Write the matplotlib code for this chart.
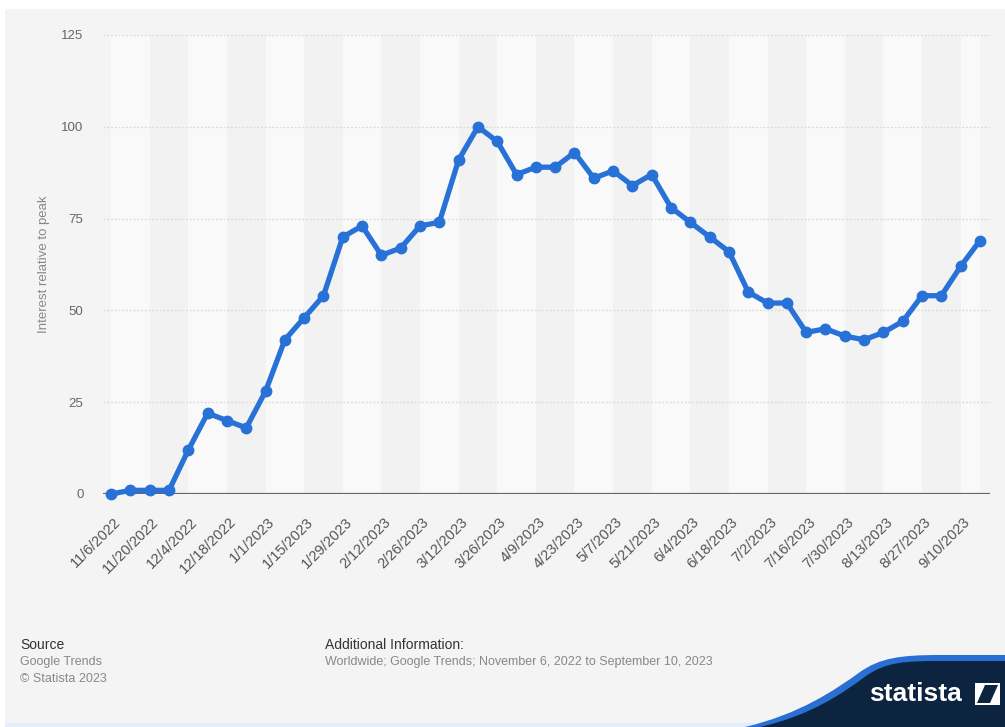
import matplotlib
matplotlib.use("Agg")
import matplotlib.pyplot as plt
from matplotlib.patches import PathPatch, Rectangle, Polygon
from matplotlib.path import Path
import matplotlib.transforms as mtransforms

plt.rcParams['font.family'] = ['Liberation Sans', 'DejaVu Sans']

# weekly Google Trends interest, 11/6/2022 .. 9/17/2023
interest = [0, 1, 1, 1, 12, 22, 20, 18, 28, 42,
            48, 54, 70, 73, 65, 67, 73, 74, 91, 100,
            96, 87, 89, 89, 93, 86, 88, 84, 87, 78,
            74, 70, 66, 55, 52, 52, 44, 45, 43, 42,
            44, 47, 54, 54, 62, 69]

# every second week gets a label
tick_labels = ['11/6/2022', '11/20/2022', '12/4/2022', '12/18/2022', '1/1/2023',
               '1/15/2023', '1/29/2023', '2/12/2023', '2/26/2023', '3/12/2023',
               '3/26/2023', '4/9/2023', '4/23/2023', '5/7/2023', '5/21/2023',
               '6/4/2023', '6/18/2023', '7/2/2023', '7/16/2023', '7/30/2023',
               '8/13/2023', '8/27/2023', '9/10/2023']

y_ticks = [0, 25, 50, 75, 100, 125]

W, H = 1005, 727
fig = plt.figure(figsize=(W / 100, H / 100), dpi=100)
fig.patch.set_facecolor('white')


def px(xp, yp):
    return (xp / W, 1 - yp / H)


# grey card behind everything
fig.patches.append(Rectangle((5 / W, 4 / H), 1 - 5 / W, 1 - 13 / H, transform=fig.transFigure,
                             facecolor='#f4f4f4', edgecolor='none', zorder=-10))
fig.patches.append(Rectangle((5 / W, 0), 1 - 5 / W, 4 / H, transform=fig.transFigure,
                             facecolor='#e3eefa', edgecolor='none', zorder=-10))

ax = fig.add_axes([103 / W, 1 - 494 / H, 887 / W, 459 / H])
ax.set_zorder(5)
ax.set_facecolor('none')

x = list(range(len(interest)))
ax.set_xlim(-0.42, len(interest) - 1 + 0.52)
ax.set_ylim(0, 125)

# alternating two-week bands
for i in range(0, len(interest) - 1, 2):
    right = min(i + 2, len(interest) - 1)
    c = '#f9f9f9' if (i // 2) % 2 == 0 else '#f2f2f2'
    ax.axvspan(i, right, color=c, lw=0, zorder=0)

for yv in y_ticks[1:]:
    ax.axhline(yv, color='#d9d9d9', lw=0.9, ls=(0, (1.5, 1.5)), zorder=1)
ax.axhline(0, color='#666666', lw=1.6, zorder=2)

ax.plot(x, interest, color='#2871d6', lw=3.8, marker='o', ms=7.5,
        solid_joinstyle='round', zorder=3, clip_on=False)

for s in ax.spines.values():
    s.set_visible(False)

ax.set_yticks(y_ticks)
ax.set_yticklabels([str(v) for v in y_ticks], color='#666666', fontsize=9.5)
ax.tick_params(axis='y', length=0, pad=14)

ax.set_xticks(x[::2])
ax.set_xticklabels(tick_labels, rotation=45, ha='right', rotation_mode='anchor',
                   color='#555555', fontsize=10.5)
ax.tick_params(axis='x', length=0, pad=15)
offset = mtransforms.ScaledTranslation(2 / 100, 0, fig.dpi_scale_trans)
for lbl in ax.get_xticklabels():
    lbl.set_transform(lbl.get_transform() + offset)

ax.set_ylabel('Interest relative to peak', color='#888888', fontsize=9.5)
ax.yaxis.set_label_coords(-53 / 887, 0.5)

# footer
fig.text(20 / W, 1 - 645 / H, 'Source', fontsize=10, color='#333333', va='center')
fig.text(20 / W, 1 - 662 / H, 'Google Trends', fontsize=9, color='#888888', va='center')
fig.text(20 / W, 1 - 679 / H, '\u00a9 Statista 2023', fontsize=9, color='#888888', va='center')
fig.text(325 / W, 1 - 645 / H, 'Additional Information:', fontsize=10, color='#333333', va='center')
fig.text(325 / W, 1 - 662 / H,
         'Worldwide; Google Trends; November 6, 2022 to September 10, 2023',
         fontsize=9, color='#888888', va='center')

# statista logo swoosh
codes = [Path.MOVETO, Path.CURVE4, Path.CURVE4, Path.CURVE4,
         Path.CURVE4, Path.CURVE4, Path.CURVE4, Path.LINETO, Path.LINETO, Path.CLOSEPOLY]
swoosh = [px(745, 727), px(800, 714), px(835, 690), px(860, 672),
          px(880, 658), px(900, 655), px(940, 655), px(1005, 655), px(1005, 727), px(745, 727)]
fig.patches.append(PathPatch(Path(swoosh, codes), transform=fig.transFigure,
                             facecolor='#2a6fd4', edgecolor='none', zorder=1))
navy = [px(760, 727), px(812, 715), px(843, 693), px(866, 676),
        px(886, 662), px(905, 661), px(940, 661), px(1005, 661), px(1005, 727), px(760, 727)]
fig.patches.append(PathPatch(Path(navy, codes), transform=fig.transFigure,
                             facecolor='#0c2440', edgecolor='none', zorder=2))
fig.text(915 / W, 1 - 694 / H, 'statista', fontsize=19, fontweight='bold',
         color='white', ha='center', va='center', zorder=3)
fig.patches.append(Rectangle(px(975, 705), 25 / W, 22 / H, transform=fig.transFigure,
                             facecolor='white', edgecolor='none', zorder=3))
fig.patches.append(Polygon([px(977, 703), px(990, 703), px(998, 685), px(985, 685)],
                           closed=True, transform=fig.transFigure,
                           facecolor='#0c2440', edgecolor='none', zorder=4))

fig.savefig('out.png', dpi=100, facecolor=fig.get_facecolor())
